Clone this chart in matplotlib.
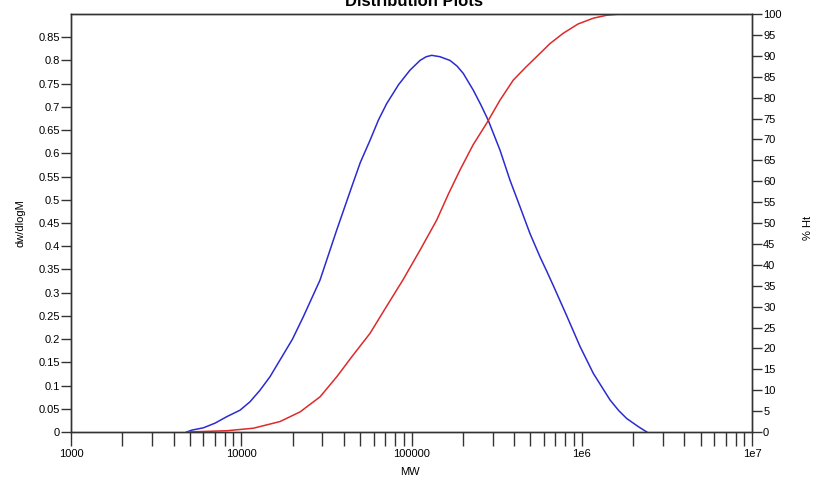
import numpy as np
import matplotlib
matplotlib.use("Agg")
import matplotlib.pyplot as plt
from matplotlib.ticker import FixedLocator, FixedFormatter, NullFormatter

plt.rcParams['font.family'] = ['Liberation Sans', 'DejaVu Sans']

# Molecular weight distribution (dw/dlogM)
mw_dist = [4780, 5120, 5990, 7010, 8220, 9840, 11250, 12890, 14750, 16890,
           20000, 23140, 29010, 36380, 44560, 50000, 57060, 64000, 71470, 84000,
           97930, 112200, 122000, 131400, 147000, 168300, 185000, 201500, 230600,
           255000, 282400, 330900, 379000, 433800, 496800, 568700, 625000, 681000,
           816500, 977500, 1170000, 1466000, 1650000, 1837000, 2140000, 2410000]
dwdlogm = [0, 0.004, 0.009, 0.019, 0.033, 0.047, 0.065, 0.090, 0.119, 0.155,
           0.200, 0.248, 0.327, 0.435, 0.528, 0.580, 0.628, 0.672, 0.707, 0.748,
           0.779, 0.800, 0.808, 0.811, 0.808, 0.800, 0.788, 0.772, 0.736,
           0.705, 0.671, 0.607, 0.542, 0.485, 0.427, 0.377, 0.345, 0.315,
           0.250, 0.184, 0.126, 0.069, 0.046, 0.029, 0.012, 0]

# Cumulative % height
mw_cum = [4780, 8220, 11770, 16890, 22140, 29010, 36380, 45000, 57060, 70000, 89130,
          112200, 140600, 165000, 192800, 230000, 276700, 330000, 396300, 470000,
          543500, 650000, 779200, 950000, 1170000, 1400000, 1680000, 2520000]
pct_ht = [0, 0.3, 0.9, 2.5, 4.8, 8.4, 13.2, 18.2, 23.6, 29.5, 36.4,
          43.5, 50.7, 57.0, 62.7, 68.7, 73.9, 79.3, 84.2, 87.3,
          89.8, 92.9, 95.4, 97.6, 99.0, 99.7, 100, 100]

x_major = [1000, 10000, 100000, 1000000, 10000000]
x_major_labels = ["1000", "10000", "100000", "1e6", "1e7"]
left_ticks = [round(0.05 * i, 2) for i in range(18)]
left_labels = ["0", "0.05", "0.1", "0.15", "0.2", "0.25", "0.3", "0.35", "0.4",
               "0.45", "0.5", "0.55", "0.6", "0.65", "0.7", "0.75", "0.8", "0.85"]
right_ticks = list(range(0, 101, 5))

fig = plt.figure(figsize=(8.18, 4.79), dpi=100)
ax = fig.add_axes([71/818, 1 - 432/479, (752 - 71)/818, (432 - 14)/479])
ax2 = ax.twinx()

spine_col = '#333333'
ax.plot(mw_dist, dwdlogm, color='#2b2bd0', lw=1.1)
ax2.plot(mw_cum, pct_ht, color='#dd2a2a', lw=1.1)

ax.set_xscale('log')
ax.set_xlim(1000, 1e7)
ax.set_ylim(0, 0.9)
ax2.set_ylim(0, 100)

ax.xaxis.set_major_locator(FixedLocator(x_major))
ax.xaxis.set_major_formatter(FixedFormatter(x_major_labels))
minors = [m * 10**e for e in range(3, 7) for m in range(2, 10)]
ax.xaxis.set_minor_locator(FixedLocator(minors))
ax.xaxis.set_minor_formatter(NullFormatter())
ax.tick_params(axis='x', which='both', direction='out', length=10, width=1,
               color=spine_col, labelsize=8, pad=2)

ax.yaxis.set_major_locator(FixedLocator(left_ticks))
ax.yaxis.set_major_formatter(FixedFormatter(left_labels))
ax.tick_params(axis='y', which='both', direction='out', length=7, width=1,
               color=spine_col, labelsize=8, pad=1)
ax.yaxis.set_minor_locator(FixedLocator([]))

ax2.yaxis.set_major_locator(FixedLocator(right_ticks))
ax2.yaxis.set_major_formatter(FixedFormatter([str(t) for t in right_ticks]))
ax2.tick_params(axis='y', which='both', direction='out', length=7, width=1,
                color=spine_col, labelsize=8, pad=1)

for a in (ax, ax2):
    for s in a.spines.values():
        s.set_color(spine_col)
        s.set_linewidth(1)

fig.text(20/818, 1 - 223/479, "dw/dlogM", rotation=90, ha='center', va='center', fontsize=8)
fig.text(808/818, 1 - 228/479, "% Ht", rotation=90, ha='center', va='center', fontsize=8)
fig.text(410/818, 1 - 472/479, "MW", ha='center', va='center', fontsize=8)
fig.text(414/818, 1 - 1/479, "Distribution Plots", ha='center', va='center',
         fontsize=12, fontweight='bold')

fig.savefig("out.png", dpi=100)
